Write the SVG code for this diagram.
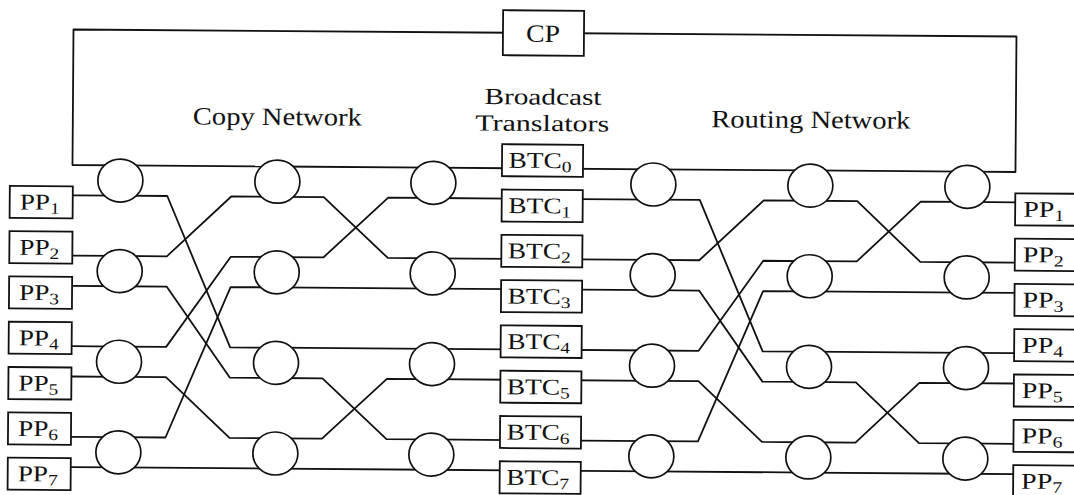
<svg xmlns="http://www.w3.org/2000/svg" width="1074" height="495" viewBox="0 0 1074 495">
<style>
  .ln { fill: none; stroke: #111; stroke-width: 1.8; stroke-linejoin: round; }
  .sw { fill: #fff; stroke: #111; stroke-width: 1.7; }
  .bx { fill: #fff; stroke: #111; stroke-width: 1.8; }
  .t  { font-family: "Liberation Serif", "DejaVu Serif", serif; fill: #111; }
  .lb { font-size: 25px; text-anchor: middle; }
  .lb2 { font-size: 23px; text-anchor: middle; }
  .nm { font-size: 22.5px; }
  .sb { font-size: 16px; }
</style>
<rect x="0" y="0" width="1074" height="495" fill="#fff"/>
<g transform="rotate(0.425 73 29)">
  <g id="connectors" class="ln">
    <path d="M121.5 165 H73.5 V29.5 H1016.5 V165 H968.5"/>
    <path d="M74 195.3 H121.5"/>
    <path d="M74 255.6 H121.5"/>
    <path d="M74 285.9 H121.5"/>
    <path d="M74 346.2 H121.5"/>
    <path d="M74 376.5 H121.5"/>
    <path d="M74 436.8 H121.5"/>
    <path d="M74 467.1 H121.5"/>
    <path d="M121.5 165 H278.5"/>
    <path d="M121.5 195.3 H168.5 L232.5 346.2 H278.5"/>
    <path d="M121.5 255.6 H168.5 L232.5 195.3 H278.5"/>
    <path d="M121.5 285.9 H168.5 L232.5 376.5 H278.5"/>
    <path d="M121.5 346.2 H168.5 L232.5 255.6 H278.5"/>
    <path d="M121.5 376.5 H168.5 L232.5 436.8 H278.5"/>
    <path d="M121.5 436.8 H168.5 L232.5 285.9 H278.5"/>
    <path d="M121.5 467.1 H278.5"/>
    <path d="M278.5 165 H434.5"/>
    <path d="M278.5 195.3 H325 L389.5 255.6 H434.5"/>
    <path d="M278.5 255.6 H325 L389.5 195.3 H434.5"/>
    <path d="M278.5 285.9 H434.5"/>
    <path d="M278.5 346.2 H434.5"/>
    <path d="M278.5 376.5 H325 L389.5 436.8 H434.5"/>
    <path d="M278.5 436.8 H325 L389.5 376.5 H434.5"/>
    <path d="M278.5 467.1 H434.5"/>
    <path d="M434.5 165 H654.5"/>
    <path d="M434.5 195.3 H654.5"/>
    <path d="M434.5 255.6 H654.5"/>
    <path d="M434.5 285.9 H654.5"/>
    <path d="M434.5 346.2 H654.5"/>
    <path d="M434.5 376.5 H654.5"/>
    <path d="M434.5 436.8 H654.5"/>
    <path d="M434.5 467.1 H654.5"/>
    <path d="M654.5 165 H811.5"/>
    <path d="M654.5 195.3 H701 L765 346.2 H811.5"/>
    <path d="M654.5 255.6 H701 L765 195.3 H811.5"/>
    <path d="M654.5 285.9 H701 L765 376.5 H811.5"/>
    <path d="M654.5 346.2 H701 L765 255.6 H811.5"/>
    <path d="M654.5 376.5 H701 L765 436.8 H811.5"/>
    <path d="M654.5 436.8 H701 L765 285.9 H811.5"/>
    <path d="M654.5 467.1 H811.5"/>
    <path d="M811.5 165 H968.5"/>
    <path d="M811.5 195.3 H858.5 L922 255.6 H968.5"/>
    <path d="M811.5 255.6 H858.5 L922 195.3 H968.5"/>
    <path d="M811.5 285.9 H968.5"/>
    <path d="M811.5 346.2 H968.5"/>
    <path d="M811.5 376.5 H858.5 L922 436.8 H968.5"/>
    <path d="M811.5 436.8 H858.5 L922 376.5 H968.5"/>
    <path d="M811.5 467.1 H968.5"/>
    <path d="M968.5 195.3 H1016.5"/>
    <path d="M968.5 255.6 H1016.5"/>
    <path d="M968.5 285.9 H1016.5"/>
    <path d="M968.5 346.2 H1016.5"/>
    <path d="M968.5 376.5 H1016.5"/>
    <path d="M968.5 436.8 H1016.5"/>
    <path d="M968.5 467.1 H1016.5"/>
  </g>

  <g id="c1s1"><ellipse class="sw" cx="121.5" cy="180.2" rx="22.5" ry="21.5"/></g>
  <g id="c1s2"><ellipse class="sw" cx="121.5" cy="270.8" rx="22.5" ry="21.5"/></g>
  <g id="c1s3"><ellipse class="sw" cx="121.5" cy="361.4" rx="22.5" ry="21.5"/></g>
  <g id="c1s4"><ellipse class="sw" cx="121.5" cy="452" rx="22.5" ry="21.5"/></g>
  <g id="c2s1"><ellipse class="sw" cx="278.5" cy="180.2" rx="22.5" ry="21.5"/></g>
  <g id="c2s2"><ellipse class="sw" cx="278.5" cy="270.8" rx="22.5" ry="21.5"/></g>
  <g id="c2s3"><ellipse class="sw" cx="278.5" cy="361.4" rx="22.5" ry="21.5"/></g>
  <g id="c2s4"><ellipse class="sw" cx="278.5" cy="452" rx="22.5" ry="21.5"/></g>
  <g id="c3s1"><ellipse class="sw" cx="434.5" cy="180.2" rx="22.5" ry="21.5"/></g>
  <g id="c3s2"><ellipse class="sw" cx="434.5" cy="270.8" rx="22.5" ry="21.5"/></g>
  <g id="c3s3"><ellipse class="sw" cx="434.5" cy="361.4" rx="22.5" ry="21.5"/></g>
  <g id="c3s4"><ellipse class="sw" cx="434.5" cy="452" rx="22.5" ry="21.5"/></g>
  <g id="r1s1"><ellipse class="sw" cx="654.5" cy="180.2" rx="22.5" ry="21.5"/></g>
  <g id="r1s2"><ellipse class="sw" cx="654.5" cy="270.8" rx="22.5" ry="21.5"/></g>
  <g id="r1s3"><ellipse class="sw" cx="654.5" cy="361.4" rx="22.5" ry="21.5"/></g>
  <g id="r1s4"><ellipse class="sw" cx="654.5" cy="452" rx="22.5" ry="21.5"/></g>
  <g id="r2s1"><ellipse class="sw" cx="811.5" cy="180.2" rx="22.5" ry="21.5"/></g>
  <g id="r2s2"><ellipse class="sw" cx="811.5" cy="270.8" rx="22.5" ry="21.5"/></g>
  <g id="r2s3"><ellipse class="sw" cx="811.5" cy="361.4" rx="22.5" ry="21.5"/></g>
  <g id="r2s4"><ellipse class="sw" cx="811.5" cy="452" rx="22.5" ry="21.5"/></g>
  <g id="r3s1"><ellipse class="sw" cx="968.5" cy="180.2" rx="22.5" ry="21.5"/></g>
  <g id="r3s2"><ellipse class="sw" cx="968.5" cy="270.8" rx="22.5" ry="21.5"/></g>
  <g id="r3s3"><ellipse class="sw" cx="968.5" cy="361.4" rx="22.5" ry="21.5"/></g>
  <g id="r3s4"><ellipse class="sw" cx="968.5" cy="452" rx="22.5" ry="21.5"/></g>

  <g id="cp">
    <rect class="bx" x="503" y="7" width="81" height="45"/>
    <text class="t" x="543" y="38.5" font-size="25" text-anchor="middle" textLength="34" lengthAdjust="spacingAndGlyphs">CP</text>
  </g>

  <g id="ppL1"><rect class="bx" x="11" y="186.3" width="63" height="32"/><text class="t nm" x="21" y="209.8" textLength="40" lengthAdjust="spacingAndGlyphs">PP<tspan class="sb" dy="4">1</tspan></text></g>
  <g id="ppL2"><rect class="bx" x="11" y="231.6" width="63" height="32"/><text class="t nm" x="21" y="255.1" textLength="40" lengthAdjust="spacingAndGlyphs">PP<tspan class="sb" dy="4">2</tspan></text></g>
  <g id="ppL3"><rect class="bx" x="11" y="276.9" width="63" height="32"/><text class="t nm" x="21" y="300.4" textLength="40" lengthAdjust="spacingAndGlyphs">PP<tspan class="sb" dy="4">3</tspan></text></g>
  <g id="ppL4"><rect class="bx" x="11" y="322.2" width="63" height="32"/><text class="t nm" x="21" y="345.7" textLength="40" lengthAdjust="spacingAndGlyphs">PP<tspan class="sb" dy="4">4</tspan></text></g>
  <g id="ppL5"><rect class="bx" x="11" y="367.5" width="63" height="32"/><text class="t nm" x="21" y="391" textLength="40" lengthAdjust="spacingAndGlyphs">PP<tspan class="sb" dy="4">5</tspan></text></g>
  <g id="ppL6"><rect class="bx" x="11" y="412.8" width="63" height="32"/><text class="t nm" x="21" y="436.3" textLength="40" lengthAdjust="spacingAndGlyphs">PP<tspan class="sb" dy="4">6</tspan></text></g>
  <g id="ppL7"><rect class="bx" x="11" y="458.1" width="63" height="32"/><text class="t nm" x="21" y="481.6" textLength="40" lengthAdjust="spacingAndGlyphs">PP<tspan class="sb" dy="4">7</tspan></text></g>

  <g id="btc0"><rect class="bx" x="503" y="141" width="81" height="32"/><text class="t nm" x="509.5" y="164.5" textLength="63" lengthAdjust="spacingAndGlyphs">BTC<tspan class="sb" dy="4">0</tspan></text></g>
  <g id="btc1"><rect class="bx" x="503" y="186.3" width="81" height="32"/><text class="t nm" x="509.5" y="209.8" textLength="63" lengthAdjust="spacingAndGlyphs">BTC<tspan class="sb" dy="4">1</tspan></text></g>
  <g id="btc2"><rect class="bx" x="503" y="231.6" width="81" height="32"/><text class="t nm" x="509.5" y="255.1" textLength="63" lengthAdjust="spacingAndGlyphs">BTC<tspan class="sb" dy="4">2</tspan></text></g>
  <g id="btc3"><rect class="bx" x="503" y="276.9" width="81" height="32"/><text class="t nm" x="509.5" y="300.4" textLength="63" lengthAdjust="spacingAndGlyphs">BTC<tspan class="sb" dy="4">3</tspan></text></g>
  <g id="btc4"><rect class="bx" x="503" y="322.2" width="81" height="32"/><text class="t nm" x="509.5" y="345.7" textLength="63" lengthAdjust="spacingAndGlyphs">BTC<tspan class="sb" dy="4">4</tspan></text></g>
  <g id="btc5"><rect class="bx" x="503" y="367.5" width="81" height="32"/><text class="t nm" x="509.5" y="391" textLength="63" lengthAdjust="spacingAndGlyphs">BTC<tspan class="sb" dy="4">5</tspan></text></g>
  <g id="btc6"><rect class="bx" x="503" y="412.8" width="81" height="32"/><text class="t nm" x="509.5" y="436.3" textLength="63" lengthAdjust="spacingAndGlyphs">BTC<tspan class="sb" dy="4">6</tspan></text></g>
  <g id="btc7"><rect class="bx" x="503" y="458.1" width="81" height="32"/><text class="t nm" x="509.5" y="481.6" textLength="63" lengthAdjust="spacingAndGlyphs">BTC<tspan class="sb" dy="4">7</tspan></text></g>

  <g id="ppR1"><rect class="bx" x="1016.5" y="186.3" width="63" height="32"/><text class="t nm" x="1024.5" y="209.8" textLength="41" lengthAdjust="spacingAndGlyphs">PP<tspan class="sb" dy="4">1</tspan></text></g>
  <g id="ppR2"><rect class="bx" x="1016.5" y="231.6" width="63" height="32"/><text class="t nm" x="1024.5" y="255.1" textLength="41" lengthAdjust="spacingAndGlyphs">PP<tspan class="sb" dy="4">2</tspan></text></g>
  <g id="ppR3"><rect class="bx" x="1016.5" y="276.9" width="63" height="32"/><text class="t nm" x="1024.5" y="300.4" textLength="41" lengthAdjust="spacingAndGlyphs">PP<tspan class="sb" dy="4">3</tspan></text></g>
  <g id="ppR4"><rect class="bx" x="1016.5" y="322.2" width="63" height="32"/><text class="t nm" x="1024.5" y="345.7" textLength="41" lengthAdjust="spacingAndGlyphs">PP<tspan class="sb" dy="4">4</tspan></text></g>
  <g id="ppR5"><rect class="bx" x="1016.5" y="367.5" width="63" height="32"/><text class="t nm" x="1024.5" y="391" textLength="41" lengthAdjust="spacingAndGlyphs">PP<tspan class="sb" dy="4">5</tspan></text></g>
  <g id="ppR6"><rect class="bx" x="1016.5" y="412.8" width="63" height="32"/><text class="t nm" x="1024.5" y="436.3" textLength="41" lengthAdjust="spacingAndGlyphs">PP<tspan class="sb" dy="4">6</tspan></text></g>
  <g id="ppR7"><rect class="bx" x="1016.5" y="458.1" width="63" height="32"/><text class="t nm" x="1024.5" y="481.6" textLength="41" lengthAdjust="spacingAndGlyphs">PP<tspan class="sb" dy="4">7</tspan></text></g>

  <g id="labels">
    <text class="t lb" x="278" y="123.5" textLength="169" lengthAdjust="spacingAndGlyphs">Copy Network</text>
    <text class="t lb2" x="543.5" y="101" textLength="117" lengthAdjust="spacingAndGlyphs">Broadcast</text>
    <text class="t lb2" x="543" y="127.5" textLength="134" lengthAdjust="spacingAndGlyphs">Translators</text>
    <text class="t lb" x="811.5" y="122.5" textLength="199" lengthAdjust="spacingAndGlyphs">Routing Network</text>
  </g>
</g>
</svg>
